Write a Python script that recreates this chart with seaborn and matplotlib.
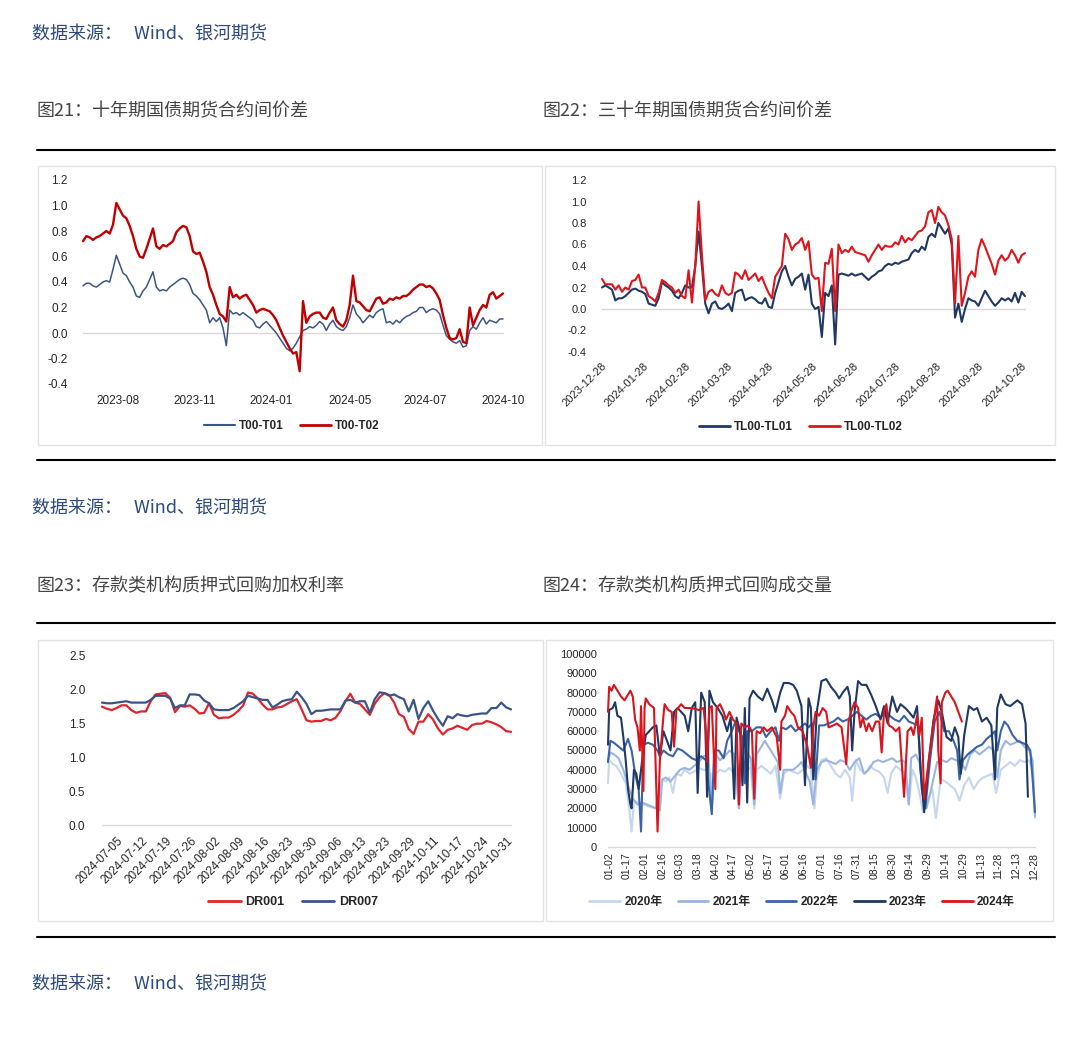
import numpy as np
import pandas as pd
import matplotlib
matplotlib.use("Agg")
import matplotlib.pyplot as plt
import seaborn as sns
from matplotlib.patches import Rectangle
from matplotlib.lines import Line2D

# ---------------- data ----------------
# Panel 1: 十年期 T00-T01 / T00-T02 (daily index)
p1_ticks = ["2023-08", "2023-11", "2024-01", "2024-05", "2024-07", "2024-10"]
p1_t01 = [0.37, 0.39, 0.39, 0.37, 0.36, 0.38, 0.40, 0.41, 0.40, 0.50, 0.61, 0.54, 0.47, 0.45, 0.40, 0.36,
          0.29, 0.28, 0.33, 0.36, 0.42, 0.48, 0.36, 0.33, 0.34, 0.33, 0.36, 0.38, 0.40, 0.42, 0.43, 0.42,
          0.38, 0.31, 0.29, 0.26, 0.22, 0.18, 0.08, 0.12, 0.09, 0.12, 0.04, -0.10, 0.18, 0.15, 0.16, 0.14,
          0.16, 0.14, 0.12, 0.10, 0.05, 0.04, 0.07, 0.09, 0.06, 0.03, 0.00, -0.04, -0.08, -0.12, -0.14, -0.12,
          -0.08, -0.03, 0.02, 0.03, 0.05, 0.04, 0.06, 0.09, 0.07, 0.02, 0.07, 0.10, 0.05, 0.03, 0.02, 0.05,
          0.12, 0.22, 0.15, 0.12, 0.08, 0.11, 0.14, 0.12, 0.16, 0.18, 0.19, 0.08, 0.09, 0.07, 0.10, 0.08,
          0.11, 0.13, 0.14, 0.16, 0.17, 0.20, 0.20, 0.16, 0.18, 0.19, 0.18, 0.15, 0.06, -0.02, -0.05, -0.07,
          -0.08, -0.06, -0.11, -0.10, 0.02, 0.05, 0.03, 0.08, 0.12, 0.07, 0.10, 0.09, 0.08, 0.11, 0.11]
p1_t02 = [0.72, 0.76, 0.75, 0.73, 0.75, 0.76, 0.78, 0.80, 0.78, 0.85, 1.02, 0.97, 0.92, 0.90, 0.84, 0.76,
          0.66, 0.60, 0.59, 0.66, 0.74, 0.82, 0.68, 0.66, 0.69, 0.68, 0.70, 0.72, 0.79, 0.82, 0.84, 0.83,
          0.76, 0.64, 0.62, 0.63, 0.56, 0.48, 0.36, 0.30, 0.22, 0.15, 0.13, 0.09, 0.36, 0.28, 0.30, 0.27,
          0.29, 0.30, 0.26, 0.22, 0.16, 0.18, 0.19, 0.18, 0.17, 0.14, 0.10, 0.04, -0.02, -0.07, -0.12, -0.16,
          -0.15, -0.30, 0.25, 0.08, 0.13, 0.15, 0.16, 0.16, 0.12, 0.11, 0.16, 0.20, 0.10, 0.07, 0.05, 0.10,
          0.22, 0.45, 0.25, 0.24, 0.21, 0.18, 0.17, 0.22, 0.27, 0.28, 0.23, 0.24, 0.27, 0.26, 0.28, 0.27,
          0.29, 0.29, 0.31, 0.34, 0.36, 0.38, 0.38, 0.36, 0.37, 0.35, 0.31, 0.26, 0.14, 0.04, -0.04, -0.05,
          -0.04, 0.03, -0.07, -0.08, 0.20, 0.06, 0.12, 0.18, 0.22, 0.20, 0.30, 0.32, 0.27, 0.29, 0.31]

# Panel 2: 三十年期 TL00-TL01 / TL00-TL02
p2_ticks = ["2023-12-28", "2024-01-28", "2024-02-28", "2024-03-28", "2024-04-28", "2024-05-28",
            "2024-06-28", "2024-07-28", "2024-08-28", "2024-09-28", "2024-10-28"]
p2_tl01 = [0.20, 0.22, 0.20, 0.18, 0.08, 0.10, 0.10, 0.12, 0.15, 0.18, 0.19, 0.17, 0.16, 0.14, 0.05, 0.04,
           0.03, 0.10, 0.25, 0.22, 0.20, 0.17, 0.12, 0.10, 0.15, 0.22, 0.20, 0.20, 0.40, 0.72, 0.40, 0.05,
           -0.04, 0.05, 0.07, 0.01, 0.00, 0.02, 0.05, -0.02, 0.15, 0.17, 0.18, 0.08, 0.10, 0.11, 0.09, 0.06,
           0.05, 0.10, 0.02, 0.01, 0.15, 0.25, 0.35, 0.40, 0.30, 0.22, 0.28, 0.30, 0.33, 0.18, 0.32, 0.05,
           0.00, 0.02, -0.26, 0.15, 0.12, 0.22, -0.33, 0.32, 0.33, 0.32, 0.31, 0.33, 0.31, 0.32, 0.33, 0.30,
           0.27, 0.30, 0.32, 0.35, 0.36, 0.40, 0.42, 0.41, 0.43, 0.42, 0.44, 0.45, 0.46, 0.52, 0.55, 0.53,
           0.58, 0.55, 0.67, 0.70, 0.67, 0.80, 0.75, 0.70, 0.75, 0.60, -0.08, 0.05, -0.12, 0.00, 0.10, 0.08,
           0.07, 0.03, 0.10, 0.17, 0.12, 0.07, 0.03, 0.06, 0.10, 0.08, 0.10, 0.07, 0.15, 0.06, 0.16, 0.12]
p2_tl02 = [0.28, 0.23, 0.23, 0.23, 0.18, 0.22, 0.16, 0.20, 0.18, 0.26, 0.27, 0.32, 0.20, 0.20, 0.12, 0.10,
           0.07, 0.15, 0.27, 0.25, 0.22, 0.20, 0.15, 0.18, 0.12, 0.10, 0.36, 0.06, 0.40, 1.00, 0.50, 0.08,
           0.16, 0.18, 0.14, 0.12, 0.22, 0.15, 0.13, 0.15, 0.34, 0.32, 0.28, 0.36, 0.27, 0.30, 0.33, 0.26,
           0.30, 0.22, 0.15, 0.10, 0.30, 0.35, 0.40, 0.70, 0.65, 0.55, 0.60, 0.62, 0.66, 0.55, 0.63, 0.32,
           0.28, 0.29, -0.02, 0.43, 0.42, 0.56, -0.02, 0.60, 0.52, 0.55, 0.53, 0.58, 0.53, 0.52, 0.51, 0.50,
           0.44, 0.50, 0.55, 0.60, 0.55, 0.59, 0.58, 0.58, 0.62, 0.60, 0.68, 0.62, 0.66, 0.64, 0.68, 0.72,
           0.73, 0.77, 0.90, 0.92, 0.80, 0.95, 0.90, 0.87, 0.78, 0.65, 0.05, 0.68, 0.03, 0.15, 0.30, 0.35,
           0.30, 0.55, 0.65, 0.58, 0.50, 0.42, 0.32, 0.45, 0.50, 0.45, 0.48, 0.55, 0.50, 0.43, 0.50, 0.52]

# Panel 3: DR001 / DR007 (trading days 2024-07-01 .. 2024-10-31)
p3_ticks = ["2024-07-05", "2024-07-12", "2024-07-19", "2024-07-26", "2024-08-02", "2024-08-09",
            "2024-08-16", "2024-08-23", "2024-08-30", "2024-09-06", "2024-09-13", "2024-09-23",
            "2024-09-29", "2024-10-11", "2024-10-17", "2024-10-24", "2024-10-31"]
p3_dr001 = [1.74, 1.71, 1.69, 1.72, 1.76, 1.76, 1.69, 1.65, 1.67, 1.67, 1.82, 1.92, 1.93, 1.94, 1.87, 1.66,
            1.75, 1.74, 1.76, 1.71, 1.64, 1.65, 1.79, 1.62, 1.57, 1.58, 1.58, 1.62, 1.68, 1.76, 1.95, 1.93,
            1.86, 1.77, 1.70, 1.70, 1.73, 1.74, 1.78, 1.82, 1.85, 1.70, 1.54, 1.52, 1.53, 1.53, 1.56, 1.54,
            1.58, 1.68, 1.82, 1.93, 1.80, 1.78, 1.70, 1.62, 1.78, 1.88, 1.94, 1.91, 1.80, 1.63, 1.59, 1.41,
            1.34, 1.52, 1.52, 1.63, 1.55, 1.42, 1.33, 1.40, 1.42, 1.46, 1.43, 1.40, 1.47, 1.49, 1.49, 1.53,
            1.51, 1.48, 1.44, 1.38, 1.37]
p3_dr007 = [1.80, 1.79, 1.79, 1.80, 1.81, 1.82, 1.80, 1.80, 1.80, 1.80, 1.84, 1.90, 1.90, 1.90, 1.86, 1.72,
            1.76, 1.76, 1.92, 1.92, 1.91, 1.83, 1.79, 1.70, 1.69, 1.69, 1.69, 1.72, 1.77, 1.82, 1.90, 1.88,
            1.86, 1.84, 1.84, 1.73, 1.77, 1.82, 1.84, 1.85, 1.96, 1.88, 1.78, 1.63, 1.68, 1.68, 1.69, 1.70,
            1.70, 1.70, 1.83, 1.84, 1.80, 1.82, 1.82, 1.65, 1.85, 1.95, 1.94, 1.90, 1.92, 1.88, 1.85, 1.67,
            1.84, 1.56, 1.72, 1.82, 1.68, 1.56, 1.46, 1.60, 1.57, 1.63, 1.61, 1.60, 1.62, 1.63, 1.64, 1.64,
            1.72, 1.72, 1.80, 1.73, 1.70]

# Panel 4: 成交量 by day of year (亿元)
p4_ticks = ["01-02", "01-17", "02-01", "02-16", "03-03", "03-18", "04-02", "04-17", "05-02", "05-17",
            "06-01", "06-16", "07-01", "07-16", "07-31", "08-15", "08-30", "09-14", "09-29", "10-14",
            "10-29", "11-13", "11-28", "12-13", "12-28"]
d2020 = [1, 2, 5, 8, 12, 16, 19, 21, 23, 27, 31, 36, 41, 44, 47, 50, 53, 56, 59, 63, 66, 70, 74, 78, 82, 85,
         88, 89, 92, 96, 100, 104, 108, 110, 112, 114, 118, 122, 125, 127, 131, 135, 139, 143, 147, 150, 154,
         158, 162, 166, 170, 173, 176, 178, 182, 186, 190, 194, 198, 202, 206, 208, 211, 215, 219, 223, 227,
         231, 235, 238, 241, 245, 249, 253, 256, 259, 262, 265, 268, 272, 276, 279, 283, 287, 291, 295, 299,
         303, 307, 311, 315, 319, 323, 327, 330, 334, 338, 342, 346, 350, 354, 358, 361, 363]
v2020 = [33, 45, 43, 42, 38, 33, 20, 8, 24, 23, 22, 21, 20, 27, 35, 34, 36, 28, 38, 37, 40, 38, 39, 41, 40, 40,
         38, 23, 38, 40, 39, 41, 38, 37, 20, 38, 40, 41, 20, 40, 42, 40, 38, 42, 25, 38, 40,
         39, 38, 40, 42, 40, 20, 36, 45, 46, 42, 38, 36, 40, 36, 24, 45, 40, 38, 42, 40,
         39, 36, 28, 38, 42, 40, 38, 22, 40, 36, 28, 18, 24, 30, 15, 35, 34, 32, 30, 24,
         32, 36, 30, 34, 36, 37, 38, 28, 40, 42, 44, 42, 45, 44, 45, 40, 15]
d2021 = [1, 3, 6, 10, 14, 18, 22, 26, 30, 34, 38, 42, 45, 47, 50, 54, 58, 62, 66, 70, 74, 78, 82, 86, 89, 92,
         96, 100, 104, 108, 112, 114, 118, 122, 125, 127, 131, 134, 137, 141, 145, 147, 150, 154, 158, 162,
         165, 169, 172, 175, 178, 182, 186, 190, 194, 198, 202, 206, 210, 214, 218, 222, 226, 230, 234, 238,
         242, 246, 250, 253, 256, 258, 262, 265, 268, 271, 275, 280, 284, 288, 292, 296, 300, 304, 308, 312,
         316, 320, 324, 328, 331, 334, 338, 342, 346, 350, 354, 358, 361, 363]
v2021 = [45, 49, 48, 46, 40, 32, 25, 22, 23, 22, 21, 20, 19, 35, 36, 34, 37, 40, 41, 40, 42, 44, 47, 48, 20, 48,
         45, 47, 50, 48, 20, 47, 50, 46, 22, 48, 52, 55, 52, 48, 44, 28, 40, 40, 40, 42,
         44, 38, 34, 22, 40, 44, 45, 44, 43, 45, 44, 40, 44, 46, 38, 40, 44, 45, 44, 45,
         46, 44, 45, 44, 22, 46, 48, 44, 30, 20, 30, 44, 45, 44, 46, 45, 44, 40, 48, 50,
         48, 50, 52, 50, 36, 50, 55, 53, 54, 55, 52, 50, 45, 16]
d2022 = [1, 3, 6, 10, 14, 18, 21, 24, 27, 29, 31, 35, 39, 43, 45, 48, 52, 56, 60, 64, 68, 72, 76, 80, 84, 87,
         89, 91, 95, 99, 102, 106, 109, 112, 115, 117, 119, 123, 127, 131, 135, 139, 143, 146, 148, 152, 156,
         160, 164, 168, 171, 174, 177, 180, 184, 188, 192, 196, 200, 204, 208, 212, 216, 220, 224, 228, 232,
         236, 240, 244, 248, 252, 256, 260, 264, 267, 270, 274, 278, 282, 286, 290, 294, 297, 299, 302, 306,
         310, 314, 318, 322, 326, 329, 331, 334, 337, 340, 344, 348, 352, 356, 359, 361, 363]
v2022 = [44, 55, 54, 52, 50, 56, 50, 38, 30, 8, 53, 54, 53, 50, 47, 50, 48, 47, 51, 50, 48, 46, 45, 47, 45, 28,
         17, 50, 50, 46, 55, 60, 65, 60, 57, 33, 60, 60, 62, 62, 57, 60, 62, 55, 62, 61, 63,
         60, 62, 64, 62, 64, 35, 63, 63, 64, 65, 67, 65, 66, 68, 70, 68, 66, 68, 69, 67,
         70, 68, 66, 65, 68, 65, 64, 63, 30, 20, 45, 65, 70, 60, 60, 55, 50, 35, 45, 48,
         50, 52, 53, 56, 58, 60, 50, 60, 65, 63, 58, 55, 54, 53, 50, 35, 18]
d2023 = [1, 2, 5, 7, 9, 12, 14, 16, 18, 20, 21, 23, 25, 27, 30, 33, 36, 39, 42, 45, 48, 51, 54, 57, 60, 63, 66,
         69, 72, 75, 77, 80, 83, 85, 87, 90, 94, 98, 102, 105, 108, 110, 113, 115, 117, 119, 121, 124, 128,
         132, 136, 140, 143, 147, 150, 154, 158, 161, 165, 168, 171, 173, 175, 178, 182, 186, 190, 194, 197,
         200, 204, 206, 208, 210, 213, 216, 220, 224, 228, 232, 235, 238, 242, 246, 249, 253, 256, 260, 263,
         266, 269, 273, 277, 281, 284, 288, 292, 295, 298, 300, 303, 307, 311, 314, 318, 322, 326, 329, 331,
         334, 338, 342, 348, 352, 355, 357]
v2023 = [53, 71, 72, 75, 68, 67, 57, 45, 30, 22, 20, 40, 38, 30, 45, 58, 60, 62, 63, 47, 60, 55, 50, 70, 72, 70, 68,
         60, 72, 75, 28, 80, 75, 26, 81, 75, 72, 68, 60, 67, 25, 67, 60, 32, 72, 23, 77, 81, 78,
         76, 82, 76, 70, 80, 85, 85, 84, 81, 73, 32, 77, 72, 35, 70, 86, 87, 83, 80, 77,
         80, 83, 78, 50, 70, 86, 84, 84, 79, 73, 66, 73, 64, 78, 70, 74, 72, 70, 67, 73,
         40, 18, 45, 66, 76, 70, 57, 55, 62, 57, 38, 58, 73, 71, 72, 65, 67, 63, 35, 72,
         79, 74, 73, 76, 74, 64, 26]
d2024 = [1, 2, 4, 6, 8, 12, 15, 18, 20, 22, 24, 26, 28, 29, 31, 32, 33, 36, 40, 43, 45, 48, 49, 52, 55, 57, 59,
         63, 66, 72, 78, 82, 84, 85, 87, 89, 92, 93, 96, 99, 101, 104, 107, 110, 112, 114, 117, 120, 123, 125,
         127, 130, 133, 136, 140, 144, 147, 148, 151, 153, 156, 159, 162, 166, 170, 173, 175, 177, 180, 183,
         186, 188, 192, 195, 199, 203, 205, 207, 210, 213, 215, 217, 220, 222, 225, 228, 231, 233, 235, 237,
         239, 242, 245, 248, 252, 255, 258, 260, 263, 265, 267, 269, 272, 276, 280, 281, 283, 284, 287, 289,
         292, 295, 298, 301]
v2024 = [70, 83, 81, 84, 82, 78, 76, 79, 81, 78, 66, 62, 50, 73, 29, 72, 77, 74, 72, 8, 45, 68, 74, 71, 70, 52, 71,
         74, 72, 72, 71, 72, 60, 44, 72, 73, 30, 72, 74, 70, 66, 70, 66, 64, 22, 64, 62, 63, 60, 25,
         60, 59, 62, 60, 62, 57, 40, 65, 68, 73, 70, 68, 62, 60, 52, 41, 62, 70, 68, 72,
         70, 62, 63, 64, 62, 43, 65, 70, 75, 72, 62, 67, 60, 64, 60, 65, 65, 49, 70, 74,
         63, 62, 60, 62, 26, 60, 62, 58, 68, 58, 67, 25, 40, 60, 78, 50, 33, 75, 80, 81,
         78, 75, 70, 65]

# ---------------- style ----------------
sns.set_theme(style="white")
plt.rcParams["font.family"] = ["Liberation Sans", "Noto Sans CJK SC", "DejaVu Sans"]
CJK = ["Noto Sans CJK SC", "DejaVu Sans"]

W, H = 1080, 1042
fig = plt.figure(figsize=(W / 100, H / 100), dpi=100)
fig.patch.set_facecolor("white")


def fx(x):
    return x / W


def fy(y):
    return 1 - y / H


def add_ax(x0, y0, x1, y1):
    ax = fig.add_axes([fx(x0), fy(y1), (x1 - x0) / W, (y1 - y0) / H])
    ax.patch.set_alpha(0)
    for s in ax.spines.values():
        s.set_visible(False)
    ax.tick_params(length=0, colors="#262626")
    return ax


def hline(y, x0=37, x1=1055):
    fig.add_artist(Line2D([fx(x0), fx(x1)], [fy(y), fy(y)], transform=fig.transFigure,
                          color="black", lw=1.5))


def box(x0, y0, x1, y1):
    fig.add_artist(Rectangle((fx(x0), fy(y1)), (x1 - x0) / W, (y1 - y0) / H, transform=fig.transFigure,
                             fill=False, edgecolor="#e3e3e3", lw=1.0))


def legend(ax, handles, labels, cx, cy, fs=8.5, ncol=2, hl=2.6, cs=1.4):
    ax.legend(handles, labels, loc="center", bbox_to_anchor=(fx(cx), fy(cy)), bbox_transform=fig.transFigure,
              ncol=ncol, frameon=False, handlelength=hl, handletextpad=0.35, columnspacing=cs,
              prop={"size": fs, "weight": "bold", "family": ["Liberation Sans", "Noto Sans CJK SC"]},
              labelcolor="#262626")


SRC_COLOR = "#2c4a7c"
TITLE_COLOR = "#444444"
for y in (34, 508, 984):
    fig.text(fx(32), fy(y), "数据来源：   Wind、银河期货", va="center", ha="left", fontsize=13,
             color=SRC_COLOR, family=CJK)
for (x, y, t) in [(37, 111, "图21：十年期国债期货合约间价差"), (543, 111, "图22：三十年期国债期货合约间价差"),
                  (37, 586, "图23：存款类机构质押式回购加权利率"), (543, 586, "图24：存款类机构质押式回购成交量")]:
    fig.text(fx(x), fy(y), t, va="center", ha="left", fontsize=13, color=TITLE_COLOR, family=CJK)

for y in (150, 460, 623, 937):
    hline(y)
box(38, 166, 542, 445)
box(545, 166, 1055, 445)
box(38, 640, 543, 921)
box(546, 640, 1053, 921)

# ---------------- panel 1 ----------------
ax1 = add_ax(83, 180, 503, 384)
x1 = np.arange(len(p1_t01))
blue1, red1 = "#3d5585", "#c00000"
sns.lineplot(x=x1, y=p1_t01, ax=ax1, color=blue1, lw=1.1)
sns.lineplot(x=x1, y=p1_t02, ax=ax1, color=red1, lw=1.7)
ax1.axhline(0, color="#d9d9d9", lw=1, zorder=0)
ax1.set_xlim(0, len(x1) - 1)
ax1.set_ylim(-0.4, 1.2)
ax1.set_yticks(np.arange(-0.4, 1.21, 0.2))
ax1.set_yticklabels([f"{v:.1f}" if abs(v) > 1e-9 else "0.0" for v in np.arange(-0.4, 1.21, 0.2)], fontsize=8.5)
ax1.set_xticks([10.5, 33.5, 56.5, 80, 102.5, 126])
ax1.set_xticklabels(p1_ticks, fontsize=8.5)
ax1.tick_params(axis="y", pad=11)
ax1.tick_params(axis="x", pad=8)
legend(ax1, [Line2D([], [], color=blue1, lw=1.5), Line2D([], [], color=red1, lw=2)],
       ["T00-T01", "T00-T02"], 292, 426)

# ---------------- panel 2 ----------------
ax2 = add_ax(602, 180, 1025, 352)
x2 = np.arange(len(p2_tl01))
blue2, red2 = "#1f3864", "#e0141b"
sns.lineplot(x=x2, y=p2_tl01, ax=ax2, color=blue2, lw=1.5)
sns.lineplot(x=x2, y=p2_tl02, ax=ax2, color=red2, lw=1.5)
ax2.axhline(0, color="#d9d9d9", lw=1, zorder=0)
ax2.set_xlim(0, len(x2) - 1)
ax2.set_ylim(-0.4, 1.2)
ax2.set_yticks(np.arange(-0.4, 1.21, 0.2))
ax2.set_yticklabels([f"{v:.1f}" if abs(v) > 1e-9 else "0.0" for v in np.arange(-0.4, 1.21, 0.2)], fontsize=8)
ax2.set_xticks([1, 13.5, 26, 38.5, 51, 64, 76.5, 89, 101.5, 114, 127])
ax2.set_xticklabels(p2_ticks, fontsize=8, rotation=45, ha="right", va="center", rotation_mode="anchor")
ax2.tick_params(axis="y", pad=11)
ax2.tick_params(axis="x", pad=9)
legend(ax2, [Line2D([], [], color=blue2, lw=2), Line2D([], [], color=red2, lw=2)],
       ["TL00-TL01", "TL00-TL02"], 801, 427)

# ---------------- panel 3 ----------------
ax3 = add_ax(102, 655, 511, 825)
x3 = np.arange(len(p3_dr001))
red3, blue3 = "#e0242b", "#3b5488"
sns.lineplot(x=x3, y=p3_dr001, ax=ax3, color=red3, lw=1.6)
sns.lineplot(x=x3, y=p3_dr007, ax=ax3, color=blue3, lw=1.6)
ax3.axhline(0, color="#d9d9d9", lw=1, zorder=0)
ax3.set_xlim(0, len(x3) - 1)
ax3.set_ylim(0, 2.5)
ax3.set_yticks(np.arange(0, 2.51, 0.5))
ax3.set_yticklabels([f"{v:.1f}" for v in np.arange(0, 2.51, 0.5)], fontsize=8.5)
ax3.set_xticks(np.arange(4, 85, 5))
ax3.set_xticklabels(p3_ticks, fontsize=8.5, rotation=45, ha="right", va="center", rotation_mode="anchor")
ax3.tick_params(axis="y", pad=12)
ax3.tick_params(axis="x", pad=10)
legend(ax3, [Line2D([], [], color=red3, lw=2), Line2D([], [], color=blue3, lw=2)],
       ["DR001", "DR007"], 293, 902, fs=9)

# ---------------- panel 4 ----------------
ax4 = add_ax(608, 654, 1035, 847)
cols4 = {"2020年": "#c5d6ef", "2021年": "#9bb5e2", "2022年": "#3c63a8", "2023年": "#1f3864", "2024年": "#d9141c"}
series4 = [("2020年", d2020, v2020), ("2021年", d2021, v2021), ("2022年", d2022, v2022),
           ("2023年", d2023, v2023), ("2024年", d2024, v2024)]
for name, d, v in series4:
    sns.lineplot(x=d, y=np.array(v) * 1000, ax=ax4, color=cols4[name], lw=1.5)
ax4.axhline(0, color="#d9d9d9", lw=1, zorder=0)
ax4.set_xlim(1, 363)
ax4.set_ylim(0, 100000)
ax4.set_yticks(np.arange(0, 100001, 10000))
ax4.set_yticklabels([str(int(v)) for v in np.arange(0, 100001, 10000)], fontsize=8)
ax4.set_xticks(np.arange(2, 363, 15))
ax4.set_xticklabels(p4_ticks, fontsize=7.5, rotation=90, ha="center", va="top")
ax4.tick_params(axis="y", pad=8)
ax4.tick_params(axis="x", pad=4)
legend(ax4, [Line2D([], [], color=cols4[n], lw=2) for n, _, _ in series4], [n for n, _, _ in series4],
       802, 902, fs=8.5, ncol=5, hl=2.6, cs=1.3)

for ax in (ax1, ax2, ax3, ax4):
    ax.set_xlabel("")
    ax.set_ylabel("")
    for ln in ax.lines:
        ln.set_clip_on(False)

fig.savefig("out.png", dpi=100, facecolor="white")
